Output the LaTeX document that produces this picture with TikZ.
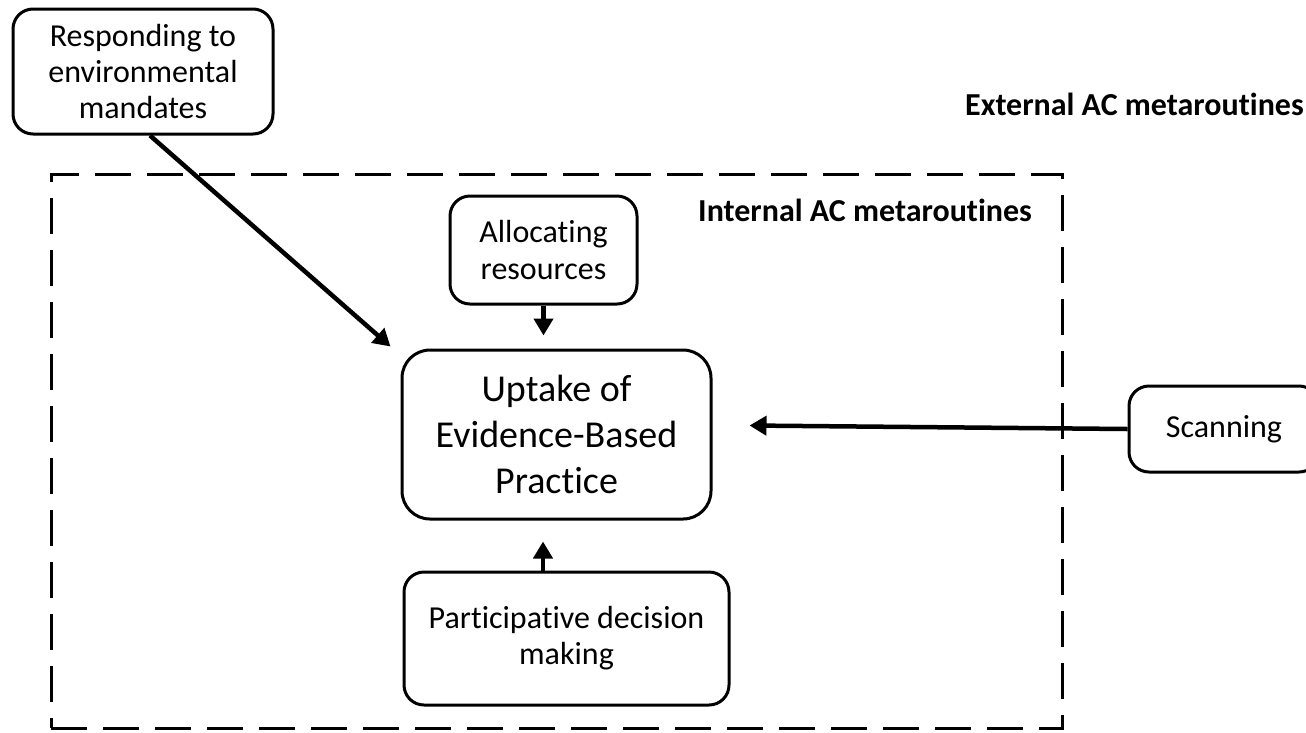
\documentclass[tikz,border=0pt]{standalone}
\usepackage{fontspec}
\setmainfont[Ligatures=NoCommon]{Carlito}
\usetikzlibrary{arrows.meta,calc}
\begin{document}
\begin{tikzpicture}[x=1pt,y=-1pt,
  box/.style={draw,line width=3pt,rounded corners=20pt,align=center,inner sep=0pt,
    font=\fontsize{32}{36}\selectfont},
  arr/.style={line width=4.5pt,-{Triangle[length=17pt,width=19pt]}},
  lbl/.style={font=\fontsize{32}{36}\selectfont\bfseries,inner sep=0pt}]
\clip (0,0) rectangle (1306,732);
\fill[white] (0,0) rectangle (1306,732);
\node[draw,line width=3pt,dash pattern=on 36pt off 16pt,minimum width=1011pt,minimum height=554pt,inner sep=0pt] (internal) at (556.5,451) {};
\node[lbl,anchor=east] (ext) at (1304,104) {External AC metaroutines};
\node[lbl,anchor=west] (int) at (698,210) {Internal AC metaroutines};
\node[box,minimum width=260pt,minimum height=125pt] (resp) at (143,71.5) {Responding to\\environmental\\mandates};
\node[box,minimum width=187pt,minimum height=108pt] (alloc) at (543.5,250) {Allocating\\resources};
\node[box,rounded corners=28pt,minimum width=309pt,minimum height=169pt,font=\fontsize{38}{46}\selectfont] (uptake) at (556.5,434.5) {Uptake of\\Evidence-Based\\Practice};
\node[box,minimum width=325pt,minimum height=133pt] (part) at (566.5,638.5) {Participative decision\\making};
\node[box,minimum width=190pt,minimum height=86pt] (scan) at (1224,429) {Scanning};
\draw[arr] ($(resp.south)+(7,0)$) -- ($(uptake.north west)+(-10,-2)$);
\draw[arr,shorten >=13pt] (alloc.south) -- (alloc.south |- uptake.north);
\coordinate (pn) at ($(part.north)+(-23.5,0)$);
\draw[arr,shorten >=21pt] (pn) -- (pn |- uptake.south);
\draw[arr] (scan.west) -- ($(uptake.east)+(37,-9)$);
\end{tikzpicture}
\end{document}
